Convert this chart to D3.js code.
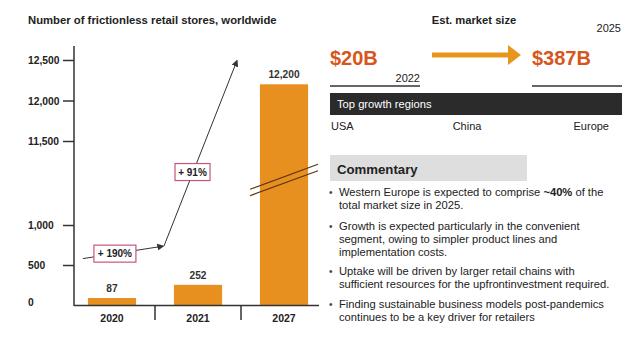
<!DOCTYPE html>
<html>
<head>
<meta charset="utf-8">
<script src="https://cdn.jsdelivr.net/npm/d3@7"></script>
<style>
  html, body { margin: 0; padding: 0; background: #fff; }
  svg { display: block; font-family: "Liberation Sans", Arial, Helvetica, sans-serif; }
</style>
</head>
<body>
<svg id="chart" width="630" height="339"></svg>
<script>
// Store counts per year
const years = ["2020", "2021", "2027"];
const stores = [87, 252, 12200];
const storeLabels = ["87", "252", "12,200"];

// Broken y axis: a low segment and a high segment
const lowTicks = [0, 500, 1000];
const highTicks = [11500, 12000, 12500];
const tickLabels = { 0: "0", 500: "500", 1000: "1,000", 11500: "11,500", 12000: "12,000", 12500: "12,500" };

// Growth annotations
const growthLabels = ["+ 190%", "+ 91%"];

// Market size panel
const marketValues = ["$20B", "$387B"];
const marketYears = ["2022", "2025"];
const regions = ["USA", "China", "Europe"];

// Commentary bullets (bold runs marked with **)
const commentary = [
  ["Western Europe is expected to comprise **~40%** of the", "total market size in 2025."],
  ["Growth is expected particularly in the convenient", "segment, owing to simpler product lines and", "implementation costs."],
  ["Uptake will be driven by larger retail chains with", "sufficient resources for the upfrontinvestment required."],
  ["Finding sustainable business models post-pandemics", "continues to be a key driver for retailers"]
];

const orange = "#e8901f";
const ink = "#222";
const svg = d3.select("#chart");

// ---------- Left: bar chart ----------
svg.append("text")
  .attr("x", 28).attr("y", 24)
  .attr("font-size", 11.3).attr("font-weight", "bold").attr("fill", ink)
  .text("Number of frictionless retail stores, worldwide");

const x = d3.scaleBand().domain(years).range([69, 327]).paddingInner(0.44).paddingOuter(0.22);
const yLow = d3.scaleLinear().domain([0, 1000]).range([305, 225]);
const yHigh = d3.scaleLinear().domain([11500, 12500]).range([141, 60]);
const y = v => (v > 1000 ? yHigh(v) : yLow(v));
const axisX = 74, baseY = yLow(0);

// y axis segments
function drawAxis(scale, ticks, showTickAt0) {
  const g = svg.append("g").attr("transform", `translate(${axisX},0)`)
    .call(d3.axisLeft(scale).tickValues(ticks).tickSize(11).tickFormat(d => tickLabels[d]));
  g.select(".domain").remove();
  g.selectAll(".tick line").attr("stroke", "#333").attr("stroke-width", 1.5)
    .attr("opacity", d => (d === 0 && !showTickAt0) ? 0 : 1);
  g.selectAll(".tick text")
    .attr("x", -46).attr("text-anchor", "start")
    .attr("dy", d => d === 0 ? "0.05em" : "0.35em")
    .attr("font-family", "Liberation Sans, Arial, sans-serif")
    .attr("font-size", 10.3).attr("font-weight", "bold").attr("fill", ink);
}
drawAxis(yLow, lowTicks, false);
drawAxis(yHigh, highTicks, true);

svg.append("line")
  .attr("x1", axisX).attr("x2", axisX).attr("y1", 46).attr("y2", baseY + 1)
  .attr("stroke", "#333").attr("stroke-width", 1.5);

// bars
svg.selectAll("rect.bar").data(stores).join("rect")
  .attr("class", "bar")
  .attr("x", (d, i) => x(years[i]))
  .attr("width", x.bandwidth())
  .attr("y", d => y(d))
  .attr("height", d => baseY - y(d))
  .attr("fill", orange);

// value labels
svg.selectAll("text.val").data(stores).join("text")
  .attr("class", "val")
  .attr("x", (d, i) => x(years[i]) + x.bandwidth() / 2)
  .attr("y", d => y(d) - 6)
  .attr("text-anchor", "middle")
  .attr("font-size", 10.2).attr("font-weight", "bold").attr("fill", "#333")
  .text((d, i) => storeLabels[i]);

// baseline and category separators
svg.append("line")
  .attr("x1", axisX).attr("x2", 319).attr("y1", baseY + 0.5).attr("y2", baseY + 0.5)
  .attr("stroke", "#333").attr("stroke-width", 1.5);
years.slice(1).forEach(yr => {
  const sx = x(yr) - (x.step() - x.bandwidth()) / 2;
  svg.append("line")
    .attr("x1", sx).attr("x2", sx).attr("y1", baseY).attr("y2", baseY + 15)
    .attr("stroke", "#333").attr("stroke-width", 1.5);
});
svg.selectAll("text.cat").data(years).join("text")
  .attr("class", "cat")
  .attr("x", d => x(d) + x.bandwidth() / 2)
  .attr("y", baseY + 17)
  .attr("text-anchor", "middle")
  .attr("font-size", 10.5).attr("font-weight", "bold").attr("fill", ink)
  .text(d => d);

// break marks across the tall bar
const breakCx = x("2027") + x.bandwidth() / 2;
const breakCy = (yHigh(11500) + yLow(1000)) / 2 - 3;
[-3.2, 3.2].forEach(off => {
  svg.append("line")
    .attr("x1", breakCx - 34).attr("y1", breakCy + off + 12.5)
    .attr("x2", breakCx + 34).attr("y2", breakCy + off - 12.5)
    .attr("stroke", "#5a3512").attr("stroke-width", 1.2);
});

// growth arrows
const defs = svg.append("defs");
defs.append("marker")
  .attr("id", "head").attr("viewBox", "0 0 10 10")
  .attr("refX", 8).attr("refY", 5)
  .attr("markerWidth", 7).attr("markerHeight", 7)
  .attr("markerUnits", "userSpaceOnUse")
  .attr("orient", "auto")
  .append("path").attr("d", "M0,0 L10,5 L0,10 Z").attr("fill", "#333");

const p0 = [x("2020") - 5, yLow(580)];
const p1 = [x("2021") - 11, yLow(735)];
const p2 = [x("2027") - 23, yHigh(12490)];

svg.append("line")
  .attr("x1", p0[0]).attr("y1", p0[1]).attr("x2", p1[0]).attr("y2", p1[1])
  .attr("stroke", "#333").attr("stroke-width", 1).attr("marker-end", "url(#head)");
svg.append("line")
  .attr("x1", p1[0] + 1).attr("y1", p1[1]).attr("x2", p2[0]).attr("y2", p2[1])
  .attr("stroke", "#333").attr("stroke-width", 1).attr("marker-end", "url(#head)");

function growthBox(cx, cy, w, label) {
  svg.append("rect")
    .attr("x", cx - w / 2).attr("y", cy - 8.5).attr("width", w).attr("height", 17)
    .attr("fill", "#fff").attr("stroke", "#c4577f").attr("stroke-width", 1.2);
  svg.append("text")
    .attr("x", cx).attr("y", cy + 3.5)
    .attr("text-anchor", "middle")
    .attr("font-size", 10).attr("font-weight", "bold").attr("fill", ink)
    .text(label);
}
// place each box at a point along its arrow
growthBox(p0[0] + (p1[0] - p0[0]) * 0.4, p0[1] + (p1[1] - p0[1]) * 0.4, 42, growthLabels[0]);
growthBox(p1[0] + (p2[0] - p1[0]) * 0.4, p1[1] + (p2[1] - p1[1]) * 0.4, 35, growthLabels[1]);

// ---------- Right: market size ----------
svg.append("text")
  .attr("x", 474).attr("y", 24).attr("text-anchor", "middle")
  .attr("font-size", 11.2).attr("font-weight", "bold").attr("fill", ink)
  .text("Est. market size");

svg.append("text")
  .attr("x", 621).attr("y", 32).attr("text-anchor", "end")
  .attr("font-size", 11).attr("fill", ink).text(marketYears[1]);
svg.append("text")
  .attr("x", 420).attr("y", 82).attr("text-anchor", "end")
  .attr("font-size", 11).attr("fill", ink).text(marketYears[0]);

svg.append("text")
  .attr("x", 330).attr("y", 65)
  .attr("font-size", 20).attr("font-weight", "bold").attr("fill", "#d6561c")
  .text(marketValues[0]);
svg.append("text")
  .attr("x", 532).attr("y", 65)
  .attr("font-size", 20).attr("font-weight", "bold").attr("fill", "#d6561c")
  .text(marketValues[1]);

// orange arrow between the two values
svg.append("rect").attr("x", 432).attr("y", 52.5).attr("width", 78).attr("height", 5).attr("fill", "#e8951e");
svg.append("path").attr("d", "M508,45 L521,55 L508,65 Z").attr("fill", "#e8951e");

svg.append("line").attr("x1", 330).attr("x2", 420).attr("y1", 86).attr("y2", 86)
  .attr("stroke", "#333").attr("stroke-width", 1.5);
svg.append("line").attr("x1", 532).attr("x2", 622).attr("y1", 86).attr("y2", 86)
  .attr("stroke", "#333").attr("stroke-width", 1.5);

svg.append("rect").attr("x", 330).attr("y", 93).attr("width", 292).attr("height", 22).attr("fill", "#2b2b2b");
svg.append("text").attr("x", 337).attr("y", 108)
  .attr("font-size", 11.2).attr("fill", "#fff").text("Top growth regions");

const regionX = [331, 467, 609];
const regionAnchor = ["start", "middle", "end"];
svg.selectAll("text.region").data(regions).join("text")
  .attr("class", "region")
  .attr("x", (d, i) => regionX[i]).attr("y", 130)
  .attr("text-anchor", (d, i) => regionAnchor[i])
  .attr("font-size", 11).attr("fill", ink)
  .text(d => d);

// ---------- Commentary ----------
svg.append("rect").attr("x", 330).attr("y", 155).attr("width", 197).attr("height", 26).attr("fill", "#dedede");
svg.append("text").attr("x", 337).attr("y", 174)
  .attr("font-size", 13.2).attr("font-weight", "bold").attr("fill", ink).text("Commentary");

const paraStart = [196, 230, 275, 308];
commentary.forEach((lines, pi) => {
  svg.append("text").attr("x", 329).attr("y", paraStart[pi])
    .attr("font-size", 10).attr("fill", "#444").text("•");
  lines.forEach((line, li) => {
    const t = svg.append("text").attr("x", 339).attr("y", paraStart[pi] + li * 13.2)
      .attr("font-size", 11.2).attr("fill", ink);
    line.split("**").forEach((part, k) => {
      if (part) t.append("tspan").attr("font-weight", k % 2 ? "bold" : null).text(part);
    });
  });
});
</script>
</body>
</html>
